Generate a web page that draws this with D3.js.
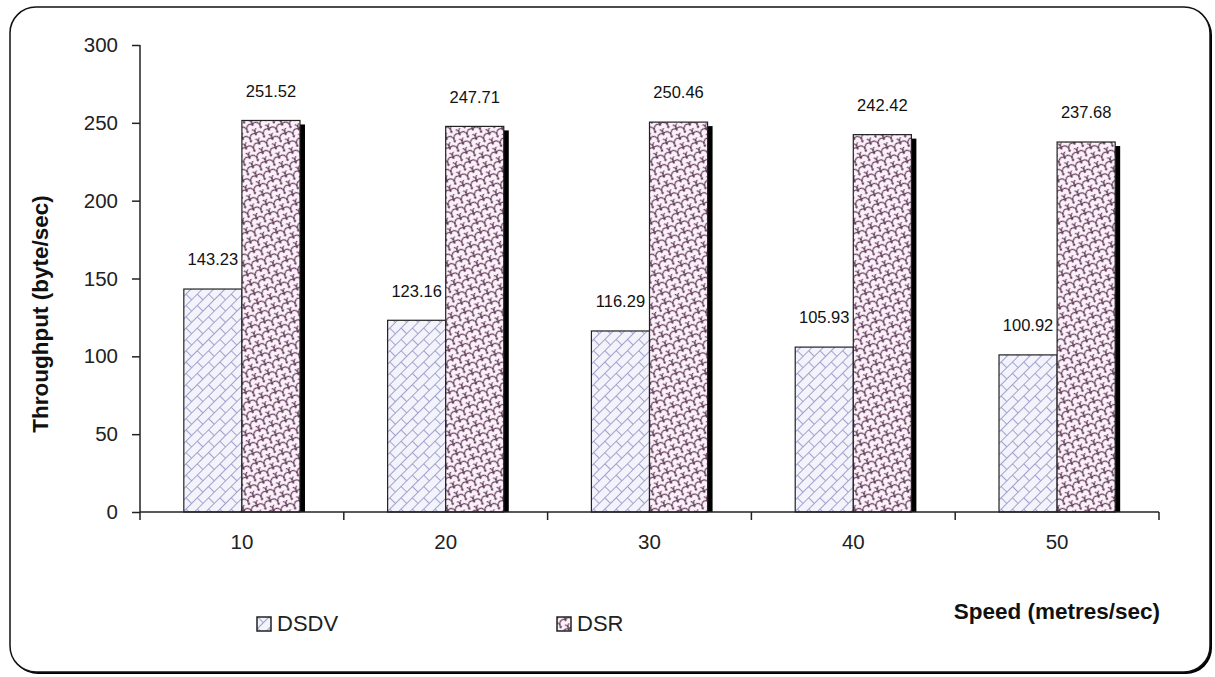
<!DOCTYPE html>
<html>
<head>
<meta charset="utf-8">
<script src="https://cdn.jsdelivr.net/npm/d3@7/dist/d3.min.js"></script>
<style>
  html, body { margin: 0; padding: 0; background: #ffffff; }
  svg { display: block; }
</style>
</head>
<body>
<svg id="chart" width="1215" height="677"></svg>
<script>
const categories = ["10", "20", "30", "40", "50"];
const seriesNames = ["DSDV", "DSR"];
const dsdvValues = [143.23, 123.16, 116.29, 105.93, 100.92];
const dsrValues = [251.52, 247.71, 250.46, 242.42, 237.68];
const yTickValues = [0, 50, 100, 150, 200, 250, 300];
const xTitle = "Speed (metres/sec)";
const yTitle = "Throughput (byte/sec)";

const svg = d3.select("#chart");
const defs = svg.append("defs");

// DSDV: diagonal brick pattern
const pBrick = defs.append("pattern")
  .attr("id", "brick").attr("patternUnits", "userSpaceOnUse")
  .attr("width", 16).attr("height", 16)
  .attr("patternTransform", "rotate(-45)");
pBrick.append("rect").attr("width", 16).attr("height", 16).attr("fill", "#f3f3fc");
pBrick.append("path")
  .attr("d", "M0,0.5H16M0,8.5H16M0.5,0V8.5M8.5,8.5V16")
  .attr("stroke", "#a2a2cc").attr("stroke-width", 1).attr("fill", "none");

// DSR: shingle / scale pattern
const pShingle = defs.append("pattern")
  .attr("id", "shingle").attr("patternUnits", "userSpaceOnUse")
  .attr("width", 14).attr("height", 10)
  .attr("patternTransform", "rotate(-20)");
pShingle.append("rect").attr("width", 14).attr("height", 10).attr("fill", "#fcf0f9");
pShingle.append("path")
  .attr("d", "M0,10 C0,3 7,3 7,7 C7,3 14,3 14,10 M-7,5 C-7,-2 0,-2 0,2 C0,-2 7,-2 7,5 C7,-2 14,-2 14,2 C14,-2 21,-2 21,5")
  .attr("stroke", "#5a3654").attr("stroke-width", 1.1).attr("fill", "none");

// Frame with shadow
svg.append("rect")
  .attr("x", 12).attr("y", 9).attr("width", 1200).attr("height", 665)
  .attr("rx", 26).attr("ry", 26).attr("fill", "#000");
svg.append("rect")
  .attr("x", 10).attr("y", 7).attr("width", 1200).attr("height", 665)
  .attr("rx", 26).attr("ry", 26).attr("fill", "#fff")
  .attr("stroke", "#111").attr("stroke-width", 1.5);

const x0 = d3.scaleBand().domain(categories).range([140, 1159]).paddingInner(0).paddingOuter(0);
const bw = x0.bandwidth();
const x1 = d3.scaleBand().domain(seriesNames).range([bw * 0.215, bw * 0.785]).padding(0);
const y = d3.scaleLinear().domain([0, 300]).range([512, 45]);

const data = categories.map((c, i) => ({ cat: c, vals: [
  { s: "DSDV", v: dsdvValues[i] },
  { s: "DSR", v: dsrValues[i] }
]}));

const fills = { DSDV: "url(#brick)", DSR: "url(#shingle)" };

const groups = svg.append("g").selectAll("g").data(data).join("g")
  .attr("transform", d => `translate(${x0(d.cat)},0)`);

groups.each(function(d) {
  const g = d3.select(this);
  d.vals.forEach(e => {
    const bx = x1(e.s), w = x1.bandwidth();
    g.append("rect")
      .attr("x", bx + w - 1).attr("y", y(e.v) + 4)
      .attr("width", 6).attr("height", y(0) - y(e.v) - 4)
      .attr("fill", "#000");
    g.append("rect")
      .attr("x", bx).attr("y", y(e.v))
      .attr("width", w).attr("height", y(0) - y(e.v))
      .attr("fill", fills[e.s]).attr("stroke", "#222").attr("stroke-width", 1.2);
  });
});

// value labels
groups.each(function(d) {
  const g = d3.select(this);
  d.vals.forEach(e => {
    g.append("text")
      .attr("x", x1(e.s) + x1.bandwidth() / 2)
      .attr("y", y(e.v) - 28)
      .attr("text-anchor", "middle").attr("dominant-baseline", "middle")
      .attr("font-family", "Liberation Sans, Arial, sans-serif")
      .attr("font-size", 16.5).attr("fill", "#111")
      .text(e.v.toFixed(2));
  });
});

// Y axis
const yAxis = d3.axisLeft(y).tickValues(yTickValues).tickSize(8).tickPadding(14).tickFormat(d3.format("d"));
const gy = svg.append("g").attr("transform", "translate(140,0)").call(yAxis);
gy.select(".domain").attr("stroke", "#222").attr("stroke-width", 1.5).attr("d", "M0,45V512");
gy.selectAll(".tick line").attr("stroke", "#222").attr("stroke-width", 1.5);
gy.selectAll(".tick text").attr("font-family", "Liberation Sans, Arial, sans-serif")
  .attr("font-size", 20.5).attr("fill", "#222");

// X axis
const xAxis = d3.axisBottom(x0).tickSize(0).tickPadding(22);
const gx = svg.append("g").attr("transform", "translate(0,512)").call(xAxis);
gx.select(".domain").attr("stroke", "#222").attr("stroke-width", 1.5).attr("d", "M140,0H1159");
gx.selectAll(".tick text").attr("font-family", "Liberation Sans, Arial, sans-serif")
  .attr("font-size", 20.5).attr("fill", "#222");
gx.selectAll("line.bound").data(categories.concat(["end"])).join("line")
  .attr("class", "bound")
  .attr("x1", (d, i) => i < categories.length ? x0(d) : x0(categories[categories.length - 1]) + bw)
  .attr("x2", (d, i) => i < categories.length ? x0(d) : x0(categories[categories.length - 1]) + bw)
  .attr("y1", 0).attr("y2", 8)
  .attr("stroke", "#222").attr("stroke-width", 1.5);

// Axis titles
svg.append("text")
  .attr("transform", "translate(48,314) rotate(-90)")
  .attr("text-anchor", "middle")
  .attr("font-family", "Liberation Sans, Arial, sans-serif")
  .attr("font-weight", "bold").attr("font-size", 22.5).attr("fill", "#111")
  .text(yTitle);
svg.append("text")
  .attr("x", 1160).attr("y", 613)
  .attr("text-anchor", "end").attr("dominant-baseline", "middle")
  .attr("font-family", "Liberation Sans, Arial, sans-serif")
  .attr("font-weight", "bold").attr("font-size", 22.5).attr("fill", "#111")
  .text(xTitle);

// Legend
const legendX = { DSDV: 257, DSR: 557 };
seriesNames.forEach(s => {
  const lg = svg.append("g").attr("transform", `translate(${legendX[s]},617)`);
  lg.append("rect").attr("x", 0).attr("y", 0).attr("width", 14).attr("height", 14)
    .attr("fill", fills[s]).attr("stroke", "#222").attr("stroke-width", 1.5);
  lg.append("text").attr("x", 20).attr("y", 8)
    .attr("dominant-baseline", "middle")
    .attr("font-family", "Liberation Sans, Arial, sans-serif")
    .attr("font-size", 22).attr("fill", "#222")
    .text(s);
});
</script>
</body>
</html>
